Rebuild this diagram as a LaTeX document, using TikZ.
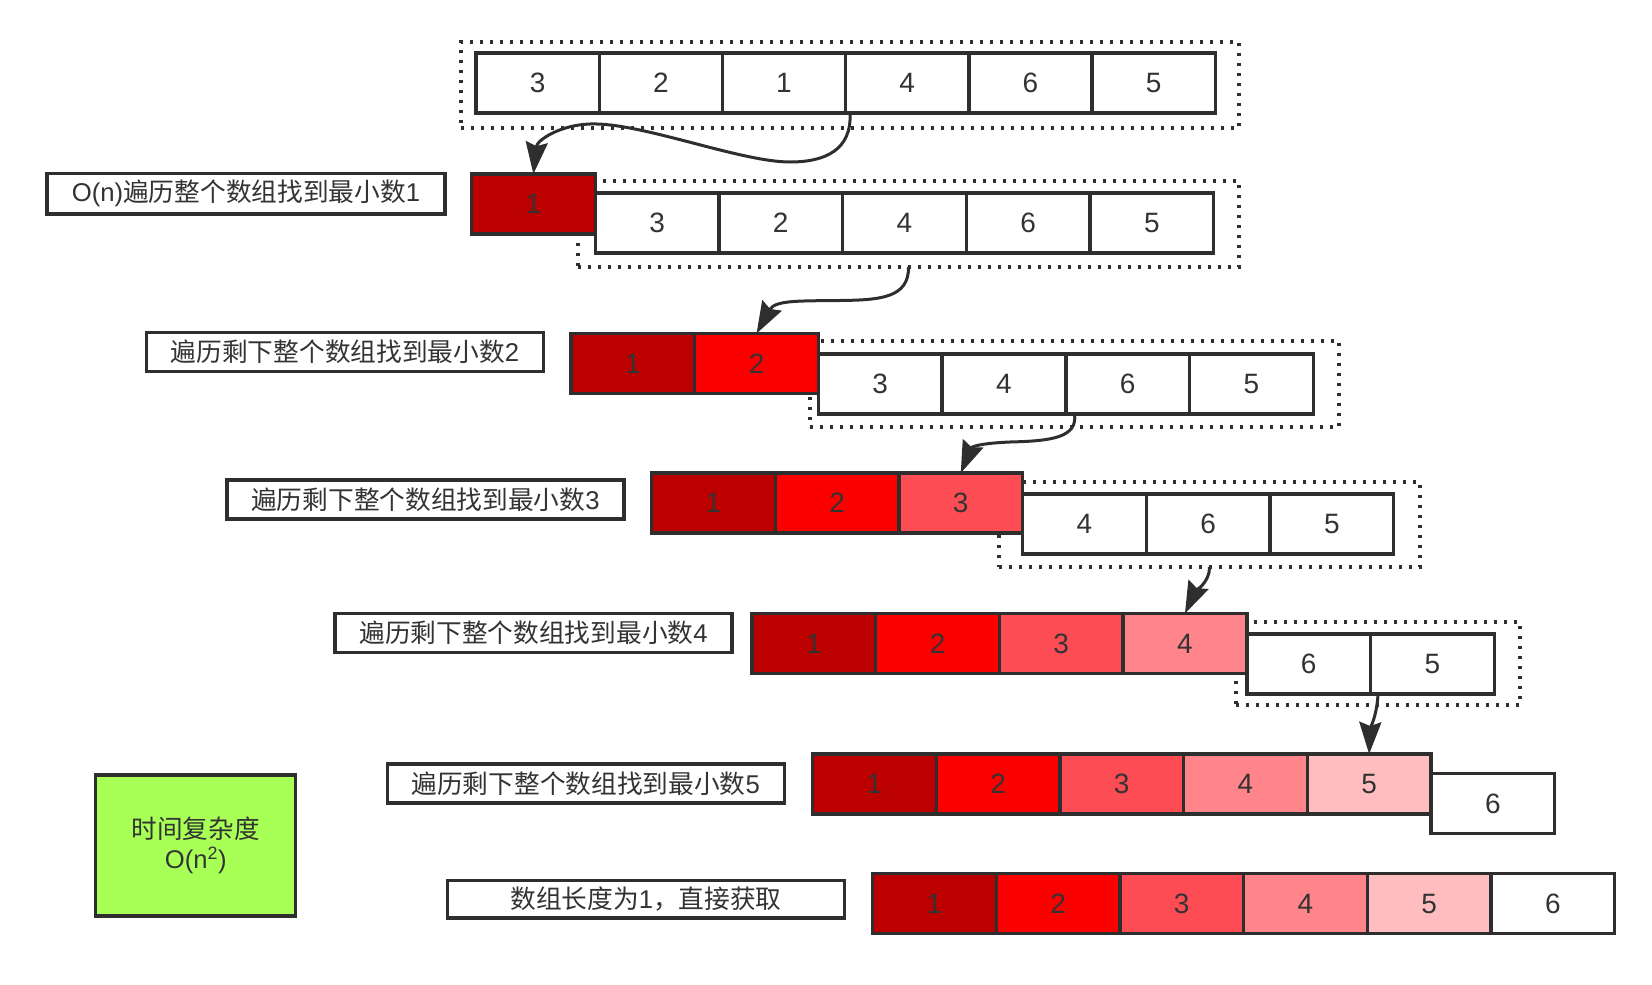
\documentclass[tikz,border=0pt]{standalone}
\usepackage{fontspec}
\setmainfont{Liberation Sans}
\newfontfamily\cjk{Noto Sans CJK SC}
\newfontfamily\lat{Liberation Sans}
\usetikzlibrary{arrows.meta}
\definecolor{ink}{HTML}{2E2E2E}
\definecolor{txt}{HTML}{333333}
\definecolor{shade1}{HTML}{BC0000}
\definecolor{shade2}{HTML}{FC0000}
\definecolor{shade3}{HTML}{FE4C55}
\definecolor{shade4}{HTML}{FF858A}
\definecolor{shade5}{HTML}{FFBDBF}
\definecolor{lime}{HTML}{A8FF55}
\begin{document}
\begin{tikzpicture}[x=1bp,y=-1bp,
  cell/.style={draw=ink, line width=3.4bp, fill=white, minimum width=123.7bp, minimum height=60bp,
    inner sep=0pt, outer sep=0pt, text=txt, font=\fontsize{28bp}{32bp}\selectfont},
  dotbox/.style={draw=ink, line width=3.2bp, dash pattern=on 3.2bp off 6.8bp, inner sep=0pt, outer sep=0pt},
  lbox/.style={draw=ink, line width=3.4bp, fill=white, minimum width=397bp, minimum height=39bp,
    inner sep=0pt, outer sep=0pt, text=txt, font=\fontsize{25.7bp}{30bp}\selectfont\cjk},
  flow/.style={draw=ink, line width=3bp, -{Stealth[length=32bp,width=22bp,inset=4bp]}},
]
\useasboundingbox (0,0) rectangle (1652,984);

% dotted boxes
\node[dotbox, minimum width=778bp, minimum height=86bp] (box1) at (850,85) {};
\node[dotbox, minimum width=661bp, minimum height=86bp] (box2) at (908.5,224) {};
\node[dotbox, minimum width=529bp, minimum height=86bp] (box3) at (1074.5,384) {};
\node[dotbox, minimum width=421bp, minimum height=85bp] (box4) at (1209.5,524.5) {};
\node[dotbox, minimum width=284bp, minimum height=83bp] (box5) at (1378,663.5) {};

% row 1
\foreach \v [count=\i] in {3,2,1,4,6,5}
  \node[cell, minimum width=123.2bp] (r1c\i) at ({476+(\i-0.5)*123.2},83) {\v};
% row 2
\node[cell, fill=shade1] (r2c1) at ({471.5+0.5*123.7},204) {1};
\foreach \v [count=\i from 2] in {3,2,4,6,5}
  \node[cell] (r2c\i) at ({471.5+(\i-0.5)*123.7},223) {\v};
% row 3
\foreach \v in {1,2}
  \node[cell, fill=shade\v] (r3c\v) at ({571+(\v-0.5)*123.7},363.5) {\v};
\foreach \v [count=\i from 3] in {3,4,6,5}
  \node[cell] (r3c\i) at ({571+(\i-0.5)*123.7},384) {\v};
% row 4
\foreach \v in {1,2,3}
  \node[cell, fill=shade\v] (r4c\v) at ({651.5+(\v-0.5)*123.7},503) {\v};
\foreach \v [count=\i from 4] in {4,6,5}
  \node[cell] (r4c\i) at ({651.5+(\i-0.5)*123.7},524) {\v};
% row 5
\foreach \v in {1,2,3,4}
  \node[cell, fill=shade\v] (r5c\v) at ({752+(\v-0.5)*123.7},643.5) {\v};
\foreach \v [count=\i from 5] in {6,5}
  \node[cell] (r5c\i) at ({752+(\i-0.5)*123.7},664) {\v};
% row 6
\foreach \v in {1,2,3,4,5}
  \node[cell, fill=shade\v] (r6c\v) at ({812.5+(\v-0.5)*123.7},784) {\v};
\node[cell] (r6c6) at ({812.5+5.5*123.7},803.5) {6};
% row 7
\foreach \v in {1,2,3,4,5}
  \node[cell, fill=shade\v] (r7c\v) at ({872.5+(\v-0.5)*123.7},903.5) {\v};
\node[cell] (r7c6) at ({872.5+5.5*123.7},903.5) {6};

% labels
\node[lbox, minimum width=398bp, minimum height=40.5bp] (t1) at (246,193.7) {{\lat O(n)}遍历整个数组找到最小数{\lat 1}};
\node[lbox] (t2) at (345,352) {遍历剩下整个数组找到最小数{\lat 2}};
\node[lbox] (t3) at (425.4,499.5) {遍历剩下整个数组找到最小数{\lat 3}};
\node[lbox] (t4) at (533.5,633) {遍历剩下整个数组找到最小数{\lat 4}};
\node[lbox] (t5) at (585.7,783.5) {遍历剩下整个数组找到最小数{\lat 5}};
\node[lbox, minimum height=37.5bp] (t6) at (646,899.3) {数组长度为{\lat 1}，直接获取};

\node[draw=ink, line width=3.4bp, fill=lime, minimum width=200bp, minimum height=141bp,
  inner sep=0pt, outer sep=0pt, align=center, text=txt,
  font=\fontsize{25.6bp}{30bp}\selectfont] (cx) at (195.7,845.5) {{\cjk 时间复杂度}\\O(n\textsuperscript{2})};

% arrows
\draw[flow] (box1.center |- r1c4.south) .. controls (852,150) and (825,162) .. (790,162)
  .. controls (740,162) and (640,122) .. (590,124)
  .. controls (560,125) and (537,140) .. (r2c1.north);
\draw[flow] (box2.south) .. controls (909,298) and (880,300) .. (840,300.5)
  .. controls (800,301) and (775,300) .. (r3c2.north);
\draw[flow] (box3.center |- r3c4.south) .. controls (1078,438) and (1050,441) .. (1010,442)
  .. controls (985,443) and (972,446) .. (r4c3.north);
\draw[flow] (box4.south) .. controls (1210,582) and (1195,592) .. (r5c4.north);
\draw[flow] (box5.center |- r5c5.south) .. controls (1377,715) and (1370,730) .. (r6c5.north);
\end{tikzpicture}
\end{document}
